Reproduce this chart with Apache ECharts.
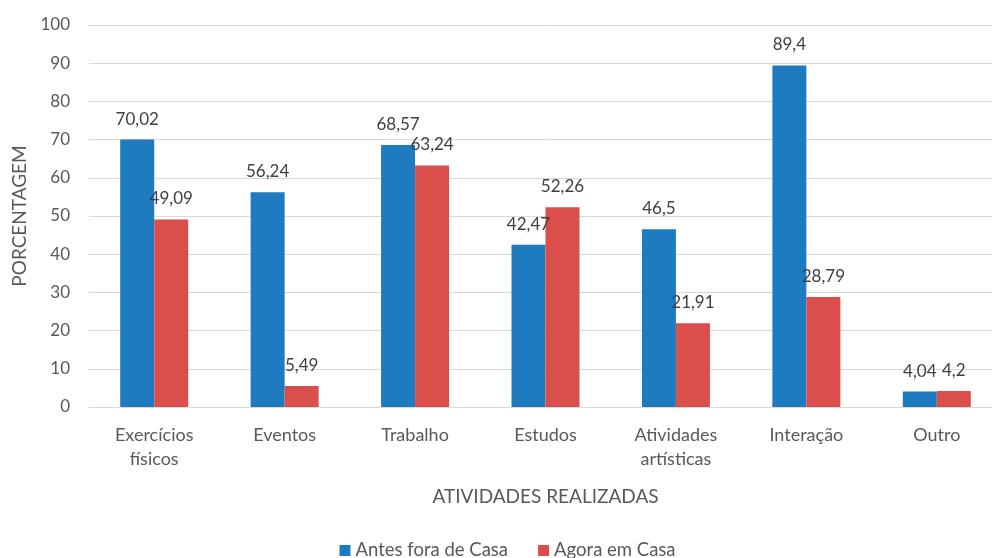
<!DOCTYPE html>
<html>
<head>
<meta charset="utf-8">
<script src="https://cdn.jsdelivr.net/npm/echarts@6/dist/echarts.min.js"></script>
<style>
  html, body { margin: 0; padding: 0; background: #fff; overflow: hidden; }
  /* canvas is a bit wider than the window: the source plot runs past the right edge */
  #chart { width: 1015px; height: 558px; }
</style>
</head>
<body>
<div id="chart"></div>
<script>
const categories = ['Exercícios\nfísicos', 'Eventos', 'Trabalho', 'Estudos', 'Atividades\nartísticas', 'Interação', 'Outro']
const antes = [70.02, 56.24, 68.57, 42.47, 46.5, 89.4, 4.04]
const agora = [49.09, 5.49, 63.24, 52.26, 21.91, 28.79, 4.2]
const yTicks = [0, 10, 20, 30, 40, 50, 60, 70, 80, 90, 100]

const FONT = 'Lato, "Open Sans", sans-serif'
const TEXT = '#595959'

// values shown with comma decimals, like the source
const fmt = (p) => String(p.value).replace('.', ',')

const label = {
  show: true,
  position: 'top',
  distance: 12,
  color: '#404040',
  fontSize: 17,
  fontFamily: FONT,
  formatter: fmt
}

const chart = echarts.init(document.getElementById('chart'))
chart.setOption({
  animation: false,
  backgroundColor: '#fff',
  textStyle: { fontFamily: FONT },
  grid: { left: 89, right: 13, top: 25, bottom: 151, containLabel: false },
  legend: {
    top: 536,
    left: 'center',
    icon: 'rect',
    itemWidth: 11,
    itemHeight: 11,
    itemGap: 30,
    textStyle: { color: TEXT, fontSize: 18.5, fontFamily: FONT },
    data: ['Antes fora de Casa', 'Agora em Casa']
  },
  xAxis: {
    type: 'category',
    data: categories,
    name: 'ATIVIDADES REALIZADAS',
    nameLocation: 'middle',
    nameGap: 80,
    nameTextStyle: { color: TEXT, fontSize: 19, fontFamily: FONT },
    axisTick: { show: false },
    axisLine: { lineStyle: { color: '#d9d9d9' } },
    axisLabel: { color: TEXT, fontSize: 18, lineHeight: 24, margin: 16, fontFamily: FONT }
  },
  yAxis: {
    type: 'value',
    min: yTicks[0],
    max: yTicks[yTicks.length - 1],
    interval: 10,
    name: 'PORCENTAGEM',
    nameLocation: 'middle',
    nameGap: 60,
    nameTextStyle: { color: TEXT, fontSize: 19, fontFamily: FONT },
    axisLine: { show: false },
    axisTick: { show: false },
    axisLabel: { color: TEXT, fontSize: 17, margin: 19, fontFamily: FONT },
    splitLine: { lineStyle: { color: '#d9d9d9' } }
  },
  series: [
    {
      name: 'Antes fora de Casa',
      type: 'bar',
      barWidth: 34,
      barGap: '0%',
      itemStyle: { color: '#1f7bbf' },
      label,
      data: antes
    },
    {
      name: 'Agora em Casa',
      type: 'bar',
      barWidth: 34,
      barGap: '0%',
      itemStyle: { color: '#da4f4b' },
      label,
      data: agora
    }
  ]
})
</script>
</body>
</html>
